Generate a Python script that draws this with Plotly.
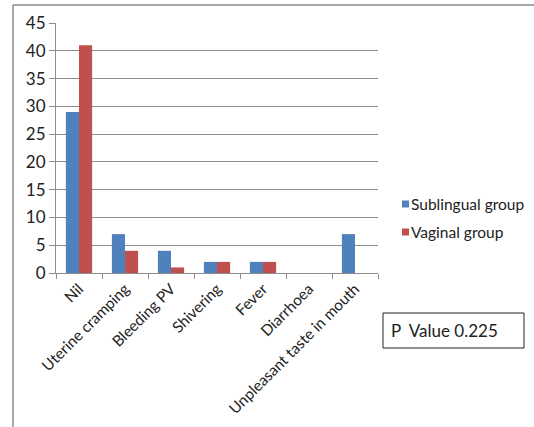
import plotly.graph_objects as go

# Side effects reported in each group
categories = ["Nil", "Uterine cramping", "Bleeding PV", "Shivering", "Fever",
              "Diarrhoea", "Unpleasant taste in mouth"]
sublingual = [29, 7, 4, 2, 2, 0, 7]
vaginal = [41, 4, 1, 2, 2, 0, 0]
series_names = ["Sublingual group", "Vaginal group"]
series_colors = ["#4F81BD", "#C0504D"]
y_ticks = [0, 5, 10, 15, 20, 25, 30, 35, 40, 45]
p_value_text = "P  Value 0.225"

W, H = 534, 427
L, R, T, B = 56, 378, 23, 273  # plot area in pixels

def px(x):
    return (x - L) / (R - L)

def py(y):
    return (B - y) / (B - T)

font = "Lato, Calibri, Liberation Sans, sans-serif"
grid = "#8c8c8c"

fig = go.Figure()
for name, vals, col in zip(series_names, [sublingual, vaginal], series_colors):
    fig.add_trace(go.Bar(x=categories, y=vals, name=name,
                         marker=dict(color=col, line=dict(width=0)),
                         showlegend=False))

fig.update_layout(
    width=W, height=H,
    margin=dict(l=L, r=W - R, t=T, b=H - B, pad=0, autoexpand=False),
    paper_bgcolor="white", plot_bgcolor="white",
    bargap=0.43, bargroupgap=0,
    font=dict(family=font, size=14, color="#222"),
    showlegend=False,
    xaxis=dict(showline=True, linecolor=grid, linewidth=1,
               ticks="outside", tickson="boundaries", ticklen=5, tickcolor=grid,
               tickangle=-45, tickfont=dict(size=15.3), showgrid=False),
    yaxis=dict(range=[0, 45], tickvals=y_ticks, showline=True, linecolor=grid,
               linewidth=1, ticks="outside", ticklen=6, tickcolor=grid,
               showgrid=True, gridcolor=grid, gridwidth=1,
               tickfont=dict(size=17), zeroline=False),
)

# Legend drawn as swatches with labels
for i, (name, col) in enumerate(zip(series_names, series_colors)):
    yc = 204 + 28 * i
    fig.add_shape(type="rect", xref="paper", yref="paper",
                  x0=px(402), x1=px(409), y0=py(yc - 3.5), y1=py(yc + 3.5),
                  line=dict(width=0), fillcolor=col)
    fig.add_annotation(xref="paper", yref="paper", x=px(409), y=py(yc),
                       xanchor="left", yanchor="middle", showarrow=False,
                       text=name, font=dict(size=15.5, color="#222"))

# Outer chart frame (top and left edges)
fig.add_shape(type="line", xref="paper", yref="paper",
              x0=px(13), x1=px(534), y0=py(5), y1=py(5),
              line=dict(color="#8a8a8a", width=1.5))
fig.add_shape(type="line", xref="paper", yref="paper",
              x0=px(13), x1=px(13), y0=py(5), y1=py(428),
              line=dict(color="#8a8a8a", width=1.5))

# P value box
fig.add_shape(type="rect", xref="paper", yref="paper",
              x0=px(383), x1=px(524), y0=py(313), y1=py(348),
              line=dict(color="#222", width=1), fillcolor="white")
fig.add_annotation(xref="paper", yref="paper", x=px(389), y=py(330.5),
                   xanchor="left", yanchor="middle", showarrow=False,
                   text=p_value_text, font=dict(size=17, color="#222"))

fig.write_html("out.html")
